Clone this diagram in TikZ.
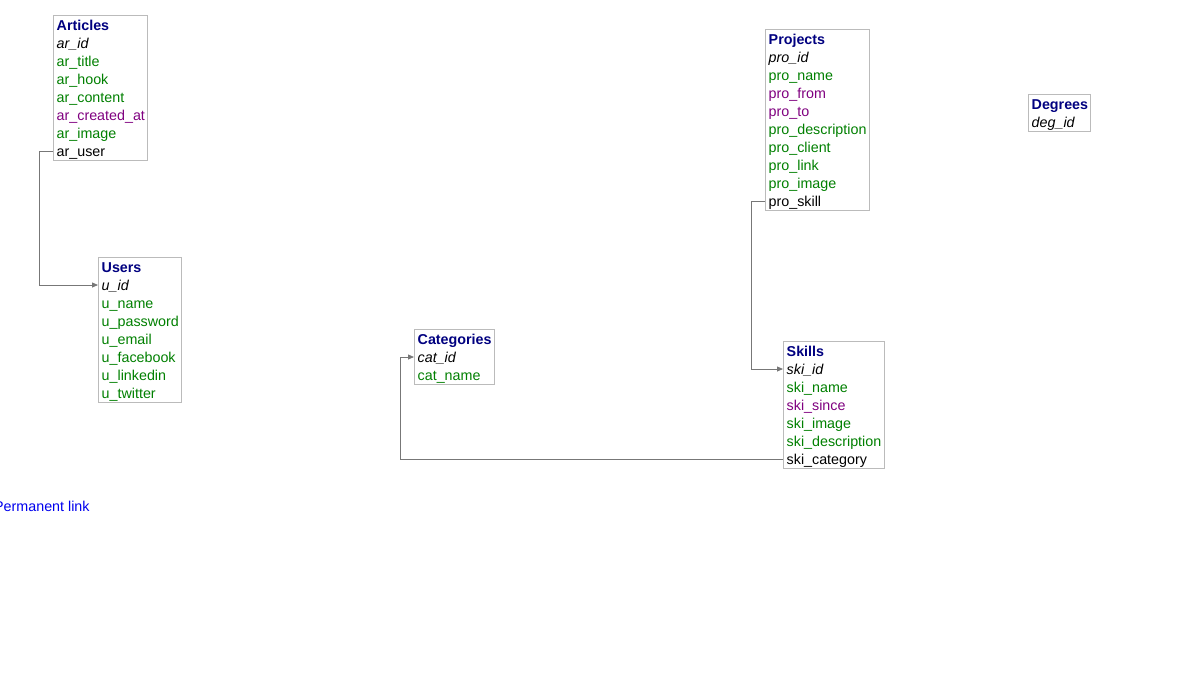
\documentclass[tikz,border=0pt]{standalone}
\usepackage{fontspec}
\setmainfont{Liberation Sans}
\usetikzlibrary{arrows.meta}
\definecolor{ttl}{HTML}{000080}
\definecolor{grn}{HTML}{008000}
\definecolor{prp}{HTML}{800080}
\definecolor{lnk}{HTML}{0000EE}
\definecolor{bord}{HTML}{BBBBBB}
\definecolor{connc}{HTML}{777777}
\newcommand{\rfont}{\fontsize{14.3}{17}\selectfont}
\begin{document}
\begin{tikzpicture}[x=1pt,y=-1pt,font=\rfont,
  tbl/.style={draw=bord,line width=0.8pt,anchor=north west,inner sep=0pt},
  baserow/.style={anchor=west,inner xsep=3.5pt,inner ysep=0pt,text height=12pt,text depth=2pt},
  ttlrow/.style={baserow,text=ttl,font=\rfont\bfseries},
  idrow/.style={baserow,font=\rfont\itshape},
  greenrow/.style={baserow,text=grn},
  purplerow/.style={baserow,text=prp},
  keyrow/.style={baserow},
  lnkrow/.style={baserow,text=lnk},
  conn/.style={draw=connc,line width=0.8pt,-{Triangle[length=6pt,width=5pt]}}]
\fill[white] (0,0) rectangle (1201,678);
\useasboundingbox (0,0) rectangle (1201,678);

% Articles
\node[tbl,minimum width=94pt,minimum height=145pt] (articles) at (53,15) {};
\node[ttlrow] (arttl) at (53,25) {Articles};
\node[idrow] (arid) at (53,43) {ar\_id};
\node[greenrow] (artitle) at (53,61) {ar\_title};
\node[greenrow] (arhook) at (53,79) {ar\_hook};
\node[greenrow] (arcontent) at (53,97) {ar\_content};
\node[purplerow] (arcreated) at (53,115) {ar\_created\_at};
\node[greenrow] (arimage) at (53,133) {ar\_image};
\node[keyrow] (aruser) at (53,151) {ar\_user};

% Users
\node[tbl,minimum width=83pt,minimum height=145pt] (users) at (98,257) {};
\node[ttlrow] (uttl) at (98,267) {Users};
\node[idrow] (uid) at (98,285) {u\_id};
\node[greenrow] (uname) at (98,303) {u\_name};
\node[greenrow] (upass) at (98,321) {u\_password};
\node[greenrow] (uemail) at (98,339) {u\_email};
\node[greenrow] (ufb) at (98,357) {u\_facebook};
\node[greenrow] (uli) at (98,375) {u\_linkedin};
\node[greenrow] (utw) at (98,393) {u\_twitter};

% Categories
\node[tbl,minimum width=80pt,minimum height=55pt] (cats) at (414,329) {};
\node[ttlrow] (catttl) at (414,339) {Categories};
\node[idrow] (catid) at (414,357) {cat\_id};
\node[greenrow] (catname) at (414,375) {cat\_name};

% Projects
\node[tbl,minimum width=104pt,minimum height=181pt] (projects) at (765,29) {};
\node[ttlrow] (prottl) at (765,39) {Projects};
\node[idrow] (proid) at (765,57) {pro\_id};
\node[greenrow] (proname) at (765,75) {pro\_name};
\node[purplerow] (profrom) at (765,93) {pro\_from};
\node[purplerow] (proto) at (765,111) {pro\_to};
\node[greenrow] (prodesc) at (765,129) {pro\_description};
\node[greenrow] (proclient) at (765,147) {pro\_client};
\node[greenrow] (prolink) at (765,165) {pro\_link};
\node[greenrow] (proimage) at (765,183) {pro\_image};
\node[keyrow] (proskill) at (765,201) {pro\_skill};

% Skills
\node[tbl,minimum width=101pt,minimum height=127pt] (skills) at (783,341) {};
\node[ttlrow] (skittl) at (783,351) {Skills};
\node[idrow] (skiid) at (783,369) {ski\_id};
\node[greenrow] (skiname) at (783,387) {ski\_name};
\node[purplerow] (skisince) at (783,405) {ski\_since};
\node[greenrow] (skiimage) at (783,423) {ski\_image};
\node[greenrow] (skidesc) at (783,441) {ski\_description};
\node[keyrow] (skicat) at (783,459) {ski\_category};

% Degrees
\node[tbl,minimum width=62pt,minimum height=37pt] (degrees) at (1028,94) {};
\node[ttlrow] (degttl) at (1028,104) {Degrees};
\node[idrow] (degid) at (1028,122) {deg\_id};

% Connectors
\draw[conn] (aruser.west) -- ++(-14,0) |- (uid.west);
\draw[conn] (proskill.west) -- ++(-14,0) |- (skiid.west);
\draw[conn] (skicat.west) -- ++(-383,0) |- (catid.west);

% Link
\node[lnkrow] (plink) at (-9.5,506) {Permanent link};
\end{tikzpicture}
\end{document}
